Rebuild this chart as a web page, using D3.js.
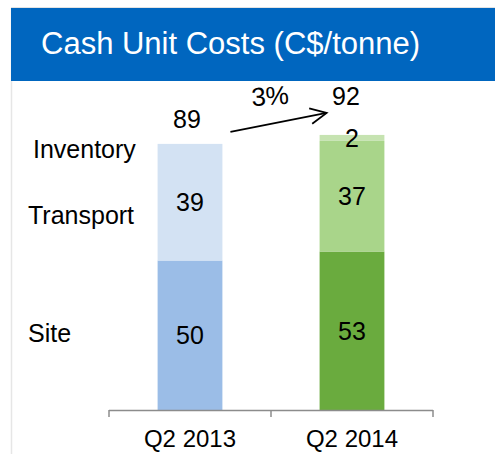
<!DOCTYPE html>
<html>
<head>
<meta charset="utf-8">
<script src="https://cdn.jsdelivr.net/npm/d3@7"></script>
<style>
  html, body { margin: 0; padding: 0; background: #fff; }
  svg { display: block; font-family: Arial, "Liberation Sans", sans-serif; }
</style>
</head>
<body>
<svg id="chart" width="495" height="454"></svg>
<script>
// ---- data ----
const categories = ["Q2 2013", "Q2 2014"];
const seriesNames = ["Site", "Transport", "Inventory"];
const siteValues = [50, 53];
const transportValues = [39, 37];
const inventoryValues = [0, 2];
const totals = [89, 92];
const changeLabel = "3%";
const title = "Cash Unit Costs (C$/tonne)";

const colors = {
  "Q2 2013": { Site: "#9bbde7", Transport: "#d3e2f3", Inventory: "#e6eef8" },
  "Q2 2014": { Site: "#6aab3e", Transport: "#a9d58a", Inventory: "#c6e3b1" }
};

const svg = d3.select("#chart");
const W = 495, H = 454;

// frame lines
svg.append("line").attr("x1", 11).attr("x2", W).attr("y1", 7.5).attr("y2", 7.5)
  .attr("stroke", "#e3e3e3").attr("stroke-width", 1);
svg.append("line").attr("x1", 11.5).attr("x2", 11.5).attr("y1", 8).attr("y2", H)
  .attr("stroke", "#e6e6e6").attr("stroke-width", 1.5);

// title bar
svg.append("rect").attr("x", 11).attr("y", 8).attr("width", W - 11).attr("height", 73)
  .attr("fill", "#0066bf");
svg.append("text").attr("x", 41).attr("y", 54).attr("fill", "#fff")
  .attr("font-size", 31).text(title);

// scales
const x = d3.scaleBand().domain(categories).range([109, 433]).padding(0);
const y = d3.scaleLinear().domain([0, 100]).range([410, 111]);
const barFrac = 0.4;
const bw = x.bandwidth() * barFrac;
const bx = c => x(c) + (x.bandwidth() - bw) / 2;

// stacked data
const rows = categories.map((c, i) => ({
  cat: c, Site: siteValues[i], Transport: transportValues[i], Inventory: inventoryValues[i]
}));
const stack = d3.stack().keys(seriesNames)(rows);

const segs = [];
stack.forEach(layer => {
  layer.forEach(d => {
    segs.push({ key: layer.key, cat: d.data.cat, y0: d[0], y1: d[1], v: d.data[layer.key] });
  });
});

svg.append("g").selectAll("rect").data(segs.filter(s => s.v > 0)).join("rect")
  .attr("x", d => bx(d.cat))
  .attr("width", bw)
  .attr("y", d => y(d.y1))
  .attr("height", d => y(d.y0) - y(d.y1))
  .attr("fill", d => colors[d.cat][d.key]);

// segment value labels
svg.append("g").selectAll("text").data(segs.filter(s => s.v > 0)).join("text")
  .attr("x", d => bx(d.cat) + bw / 2)
  .attr("y", d => (y(d.y0) + y(d.y1)) / 2)
  .attr("dy", "0.36em")
  .attr("text-anchor", "middle")
  .attr("font-size", 25)
  .attr("fill", "#000")
  .text(d => d.v);

// totals
const totalOffsets = [16, 30];
svg.append("g").selectAll("text").data(totals).join("text")
  .attr("x", (d, i) => bx(categories[i]) + bw / 2 - (i === 0 ? 3 : 6))
  .attr("y", (d, i) => y(d) - totalOffsets[i])
  .attr("text-anchor", "middle")
  .attr("font-size", 25)
  .attr("fill", "#000")
  .text(d => d);

// arrow
const ax1 = bx(categories[0]) + bw + 8, ay1 = y(totals[0]) - 12;
const ax2 = bx(categories[1]) + 7, ay2 = y(totals[1]) - 22;
svg.append("line").attr("x1", ax1).attr("y1", ay1).attr("x2", ax2).attr("y2", ay2)
  .attr("stroke", "#000").attr("stroke-width", 1.8);
const ang = Math.atan2(ay2 - ay1, ax2 - ax1);
const hl = 18, ha = 0.45;
svg.append("path")
  .attr("d", `M${ax2 - hl * Math.cos(ang - ha)},${ay2 - hl * Math.sin(ang - ha)} L${ax2},${ay2} L${ax2 - hl * Math.cos(ang + ha)},${ay2 - hl * Math.sin(ang + ha)}`)
  .attr("fill", "none").attr("stroke", "#000").attr("stroke-width", 1.8);
svg.append("text").attr("x", 270).attr("y", 105).attr("text-anchor", "middle")
  .attr("font-size", 26).attr("transform", "rotate(-4,270,96)").text(changeLabel);

// series labels at left
const seriesLabelPos = { Inventory: [33, 158], Transport: [28, 224], Site: [28, 342] };
svg.append("g").selectAll("text").data(seriesNames).join("text")
  .attr("x", d => seriesLabelPos[d][0])
  .attr("y", d => seriesLabelPos[d][1])
  .attr("font-size", 25)
  .attr("fill", "#000")
  .text(d => d);

// x axis
const axisG = svg.append("g").attr("stroke", "#8c8c8c").attr("stroke-width", 1.5);
axisG.append("line").attr("x1", x.range()[0]).attr("x2", x.range()[1])
  .attr("y1", 410.5).attr("y2", 410.5);
const tickXs = categories.map(c => x(c)).concat([x.range()[1]]);
axisG.selectAll("line.tick").data(tickXs).join("line").attr("class", "tick")
  .attr("x1", d => d).attr("x2", d => d).attr("y1", 410).attr("y2", 417);

svg.append("g").selectAll("text").data(categories).join("text")
  .attr("x", d => x(d) + x.bandwidth() / 2)
  .attr("y", 447)
  .attr("text-anchor", "middle")
  .attr("font-size", 24)
  .attr("fill", "#000")
  .text(d => d);
</script>
</body>
</html>
